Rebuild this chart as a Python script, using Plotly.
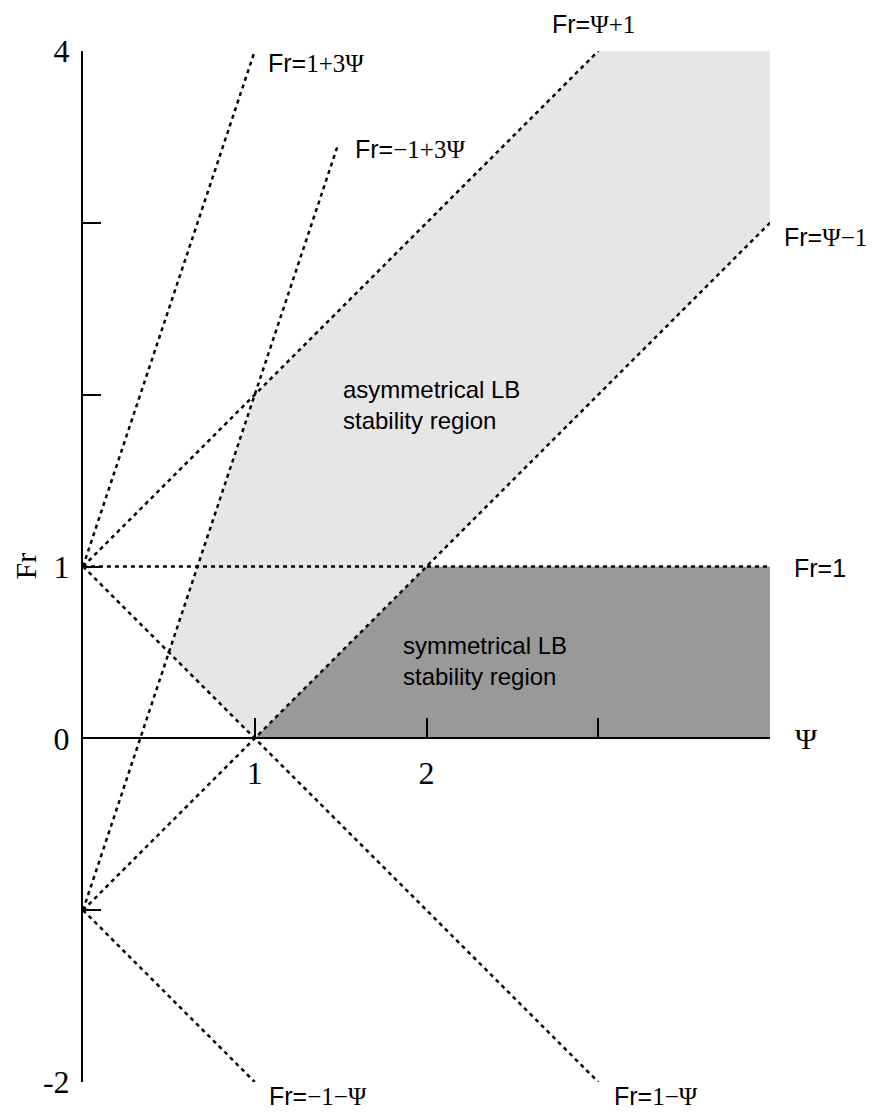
import plotly.graph_objects as go

# ---- data ----
# shaded regions (Psi, Fr vertices)
asym_psi = [1, 0.5, 1, 3, 4, 4, 2, 1]
asym_fr = [0, 0.5, 2, 4, 4, 3, 1, 0]
sym_psi = [1, 2, 4, 4, 1]
sym_fr = [0, 1, 1, 0, 0]

# boundary lines (endpoints)
line_names = ["Fr=1+3Ψ", "Fr=-1+3Ψ", "Fr=Ψ+1", "Fr=Ψ-1", "Fr=1", "Fr=1-Ψ", "Fr=-1-Ψ"]
line_psi = [[0, 1], [0, 1.48], [0, 3], [0, 4], [0, 4], [0, 3], [0, 1]]
line_fr = [[1, 4], [-1, 3.44], [1, 4], [-1, 3], [1, 1], [1, -2], [-1, -2]]

# line labels
SER = "<span style='font-family:Liberation Serif'>"
label_text = [
    "Fr=" + SER + "1+3Ψ</span>",
    "Fr=" + SER + "−1+3Ψ</span>",
    "Fr=" + SER + "Ψ+1</span>",
    "Fr=" + SER + "Ψ−1</span>",
    "Fr=1",
    "Fr=" + SER + "1−Ψ</span>",
    "Fr=" + SER + "−1−Ψ</span>",
]
label_psi = [1.065, 1.57, 2.97, 4.07, 4.13, 3.08, 1.07]
label_fr = [3.93, 3.43, 4.16, 2.92, 0.99, -2.08, -2.08]
label_anchor = ["left", "left", "center", "left", "left", "left", "left"]

region_text = ["asymmetrical LB<br>stability region", "symmetrical LB<br>stability region"]
region_psi = [1.50, 1.85]
region_fr = [1.94, 0.45]

x_tickvals = [1, 2, 3, 4]
x_ticktext = ["1", "2", "", ""]
y_tickvals = [-2, -1, 0, 1, 2, 3, 4]
y_ticktext = ["-2", "", "0", "1", "", "", "4"]

X_RANGE = [0, 4]
Y_RANGE = [-2, 4]


def px(v):
    return (v - X_RANGE[0]) / (X_RANGE[1] - X_RANGE[0])


def py(v):
    return (v - Y_RANGE[0]) / (Y_RANGE[1] - Y_RANGE[0])


fig = go.Figure()
fig.add_trace(go.Scatter(x=asym_psi, y=asym_fr, fill="toself", fillcolor="#e6e6e6",
                         mode="none", hoverinfo="skip", showlegend=False))
fig.add_trace(go.Scatter(x=sym_psi, y=sym_fr, fill="toself", fillcolor="#999999",
                         mode="none", hoverinfo="skip", showlegend=False))
for n, xs, ys in zip(line_names, line_psi, line_fr):
    fig.add_trace(go.Scatter(x=xs, y=ys, mode="lines", name=n, showlegend=False,
                             line=dict(color="black", width=2.5, dash="4px,4px"),
                             cliponaxis=False))

for t, x, y, a in zip(label_text, label_psi, label_fr, label_anchor):
    fig.add_annotation(x=px(x), y=py(y), xref="paper", yref="paper", text=t,
                       showarrow=False, xanchor=a, yanchor="middle",
                       font=dict(family="Liberation Sans", size=25, color="black"))
for t, x, y in zip(region_text, region_psi, region_fr):
    fig.add_annotation(x=x, y=y, text=t, showarrow=False, xanchor="left", yanchor="middle",
                       align="left",
                       font=dict(family="Liberation Sans", size=24, color="black"))

# axis titles
fig.add_annotation(x=px(0), y=py(1), xref="paper", yref="paper", text="Fr",
                   showarrow=False, xshift=-58, textangle=-90,
                   xanchor="center", yanchor="middle",
                   font=dict(family="Liberation Serif", size=30, color="black"))
fig.add_annotation(x=px(4), y=py(0), xref="paper", yref="paper", text="Ψ",
                   showarrow=False, xshift=36, xanchor="center", yanchor="middle",
                   font=dict(family="Liberation Serif", size=30, color="black"))

fig.update_layout(
    width=876, height=1112,
    margin=dict(l=83, r=106, t=51, b=30),
    plot_bgcolor="white", paper_bgcolor="white",
    xaxis=dict(range=X_RANGE, showgrid=False, zeroline=False, showline=True,
               linecolor="black", linewidth=2, anchor="free", position=py(0),
               tickmode="array", tickvals=x_tickvals, ticktext=x_ticktext,
               ticks="inside", ticklen=19, tickwidth=2, tickcolor="black",
               ticklabelstandoff=6,
               tickfont=dict(family="Liberation Serif", size=32, color="black")),
    yaxis=dict(range=Y_RANGE, showgrid=False, zeroline=False, showline=True,
               linecolor="black", linewidth=2,
               tickmode="array", tickvals=y_tickvals, ticktext=y_ticktext,
               ticks="inside", ticklen=18, tickwidth=2, tickcolor="black",
               ticklabelstandoff=5,
               tickfont=dict(family="Liberation Serif", size=32, color="black")),
)

fig.write_html("out.html")
